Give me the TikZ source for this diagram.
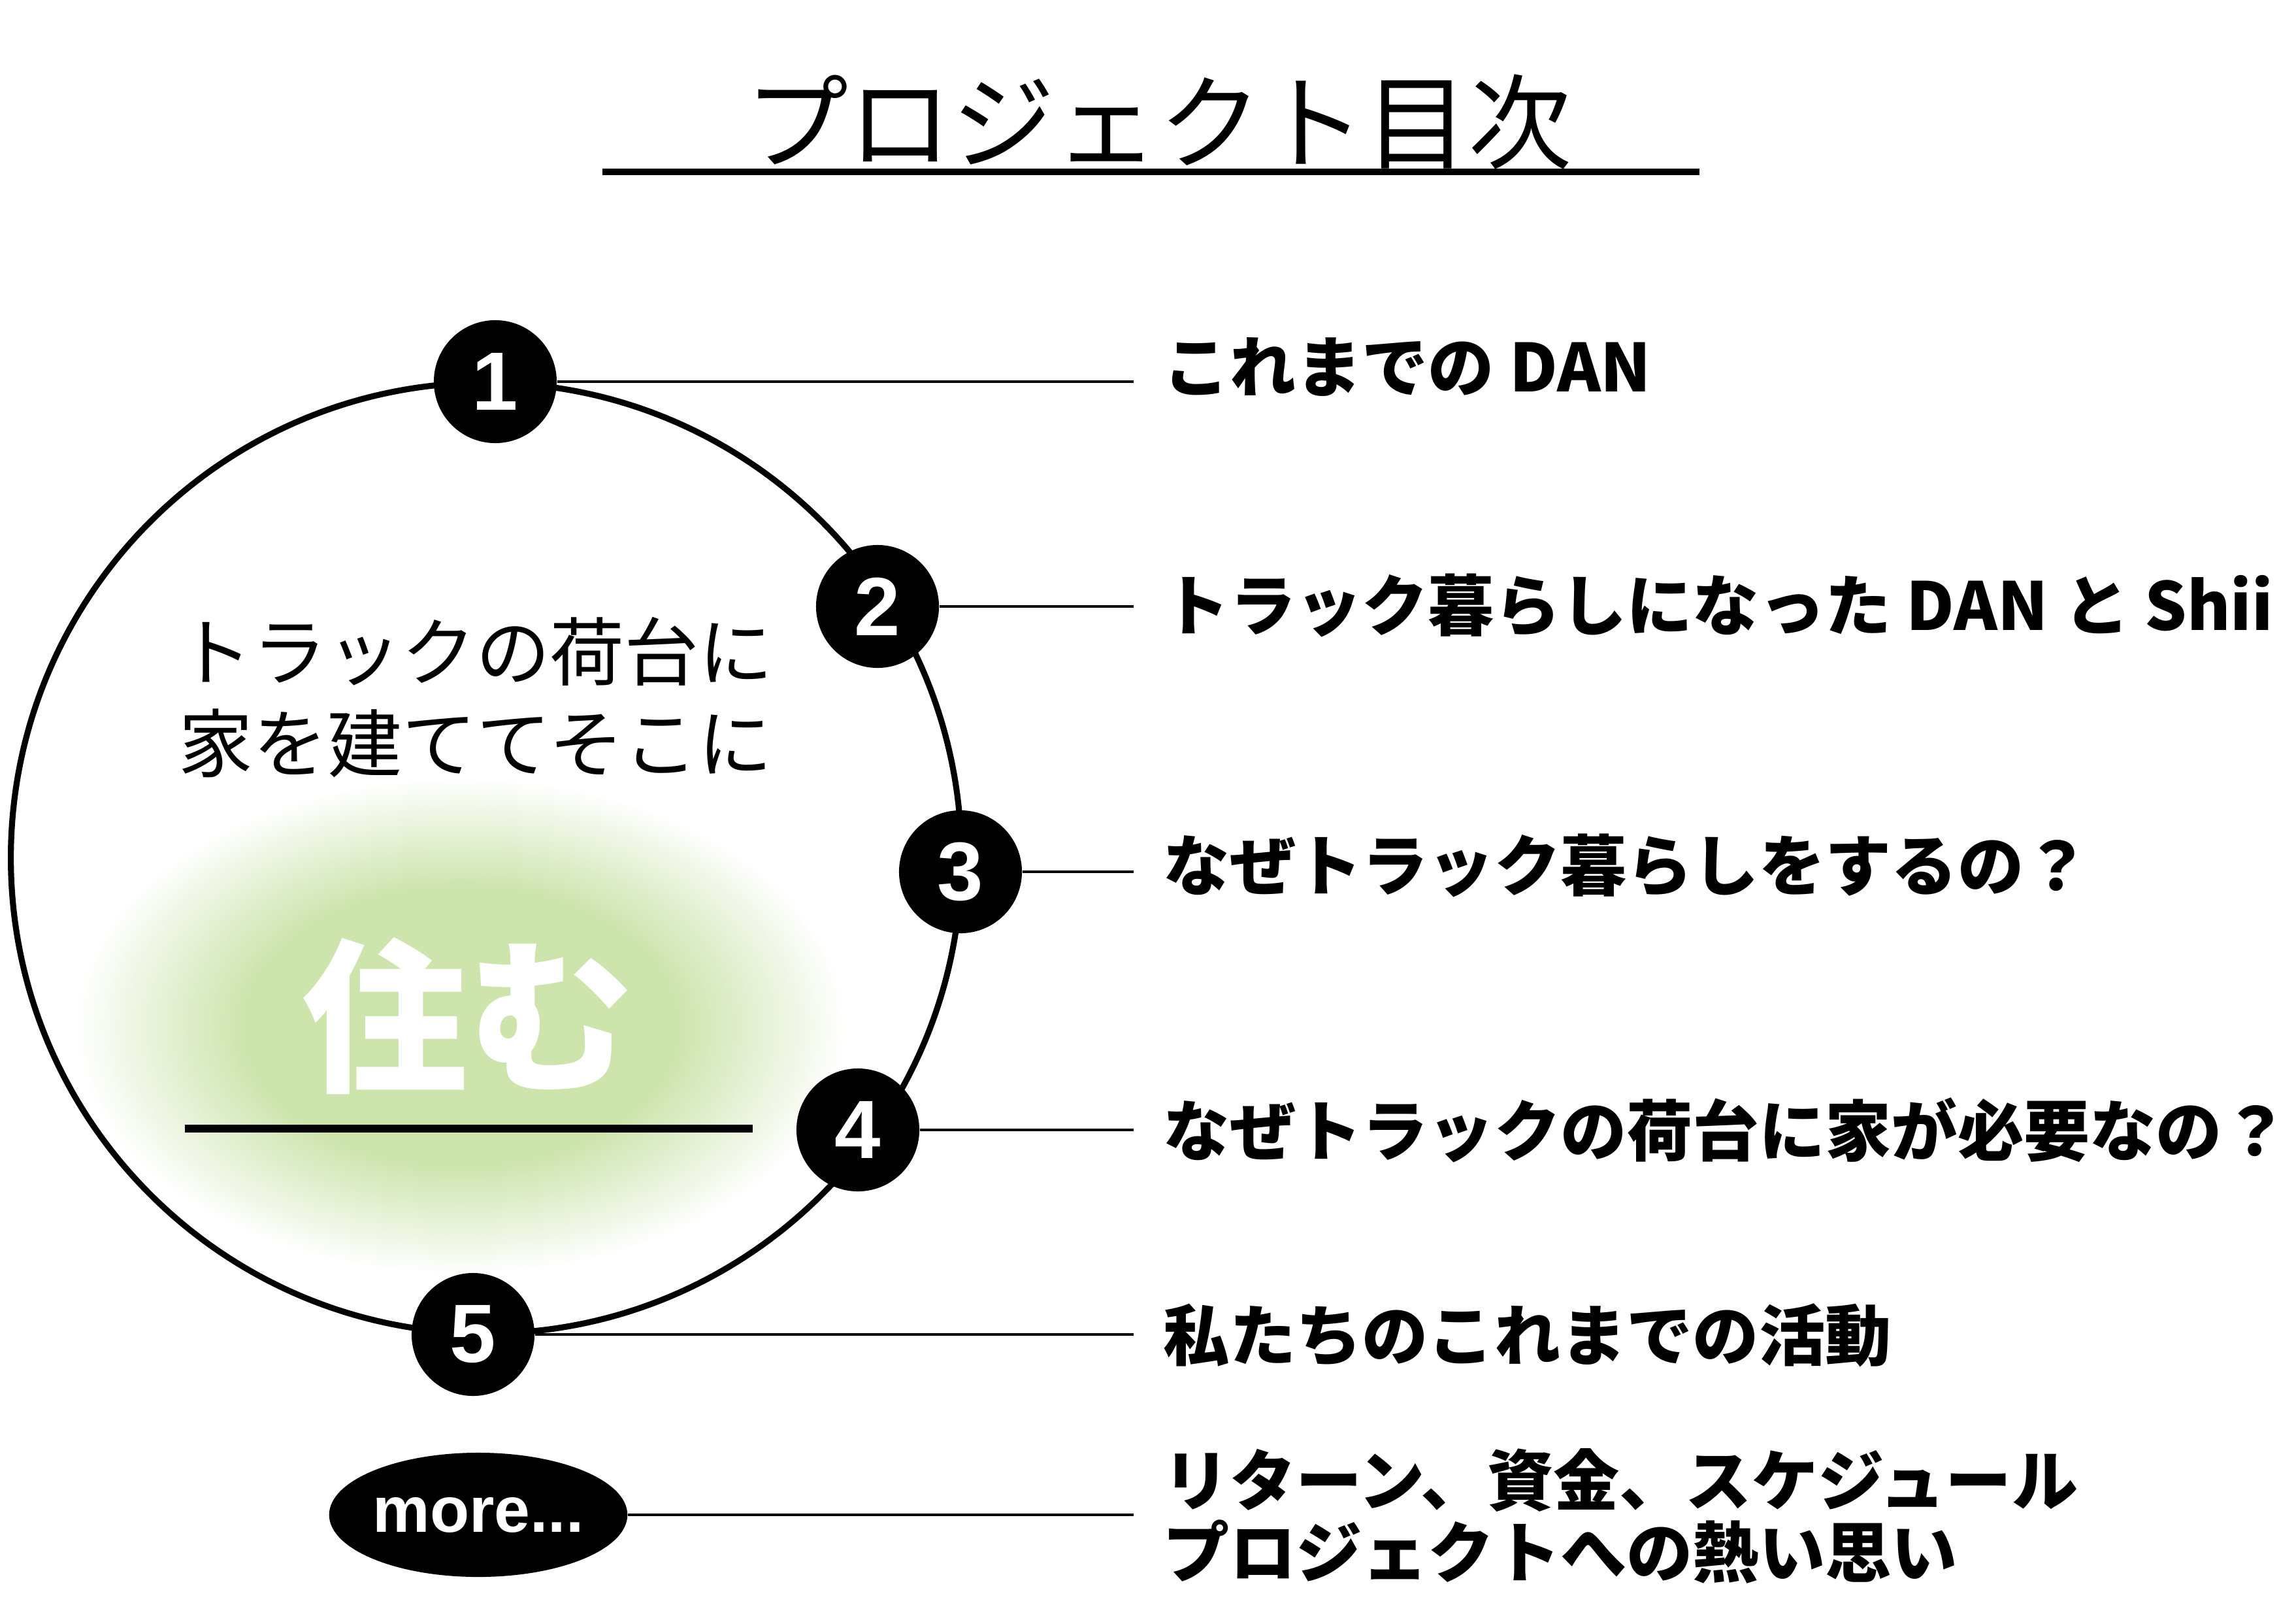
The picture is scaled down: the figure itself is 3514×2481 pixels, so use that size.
\documentclass[tikz,border=0pt]{standalone}
\usepackage{fontspec}
\setmainfont{Liberation Sans}
\newfontfamily\jpfont{Noto Sans CJK JP}
\usetikzlibrary{shapes.geometric}

\definecolor{glowgreen}{RGB}{205,228,173}
\pgfdeclareradialshading{glow}{\pgfpoint{0bp}{0bp}}{color(0bp)=(glowgreen); color(14bp)=(glowgreen); color(25bp)=(white); color(50bp)=(white)}

\tikzset{
  num/.style={circle, fill=black, text=white, minimum size=1.88cm, inner sep=0pt,
    font=\bfseries\fontsize{36}{36}\selectfont},
  item/.style={anchor=west, inner xsep=0.45cm, inner ysep=0pt,
    font=\jpfont\bfseries\fontsize{28.8}{31.3}\selectfont},
  link/.style={line width=1.1pt}
}

\begin{document}
\begin{tikzpicture}[x=0.01cm, y=-0.01cm]
  \useasboundingbox (0,0) rectangle (3514,2481);
  % title
  \node (title) at (1773,187) {\jpfont\fontsize{45}{45}\selectfont プロジェクト目次};
  \draw [line width=2.7pt] (922,263) -- (2601,263);
  % glow and ring
  \shade [shading=glow] (705,1570) ellipse [x radius=5.9cm, y radius=3.8cm];
  \draw [line width=2.6pt] (744,1313) circle [radius=7.27cm];
  \node (motto) [align=center, font=\jpfont\fontsize{32.4}{40}\selectfont] at (728,1067)
    {トラックの荷台に\\家を建ててそこに};
  \node (live) [text=white, font=\jpfont\bfseries\fontsize{72}{72}\selectfont] at (716,1555) {住む};
  \draw [line width=3.2pt] (283,1727) -- (1152,1727);
  % numbered points
  \foreach \i/\x/\y in {1/758/584, 2/1343/928, 3/1470/1334, 4/1313/1729, 5/724/2042}{
    \node [num] (n\i) at (\x,\y) {\i};
  }
  \node [ellipse, fill=black, text=white, minimum width=4.48cm, minimum height=1.9cm,
    inner sep=0pt, font=\bfseries\fontsize{28}{28}\selectfont] (more) at (732,2318) {more...};
  % items
  \foreach \i/\y/\txt in {1/562/これまでの DAN, 2/926/トラック暮らしになった DAN と Shii,
      3/1324/なぜトラック暮らしをするの？, 4/1729/なぜトラックの荷台に家が必要なの？,
      5/2043/私たちのこれまでの活動}{
    \node [item] (t\i) at (1735,\y) {\txt};
    \draw [link] (n\i) -- (n\i -| t\i.west);
  }
  \node [item, align=left] (t6) at (1735,2320) {リターン、資金、スケジュール\\プロジェクトへの熱い思い};
  \draw [link] (more) -- (more -| t6.west);
\end{tikzpicture}
\end{document}
